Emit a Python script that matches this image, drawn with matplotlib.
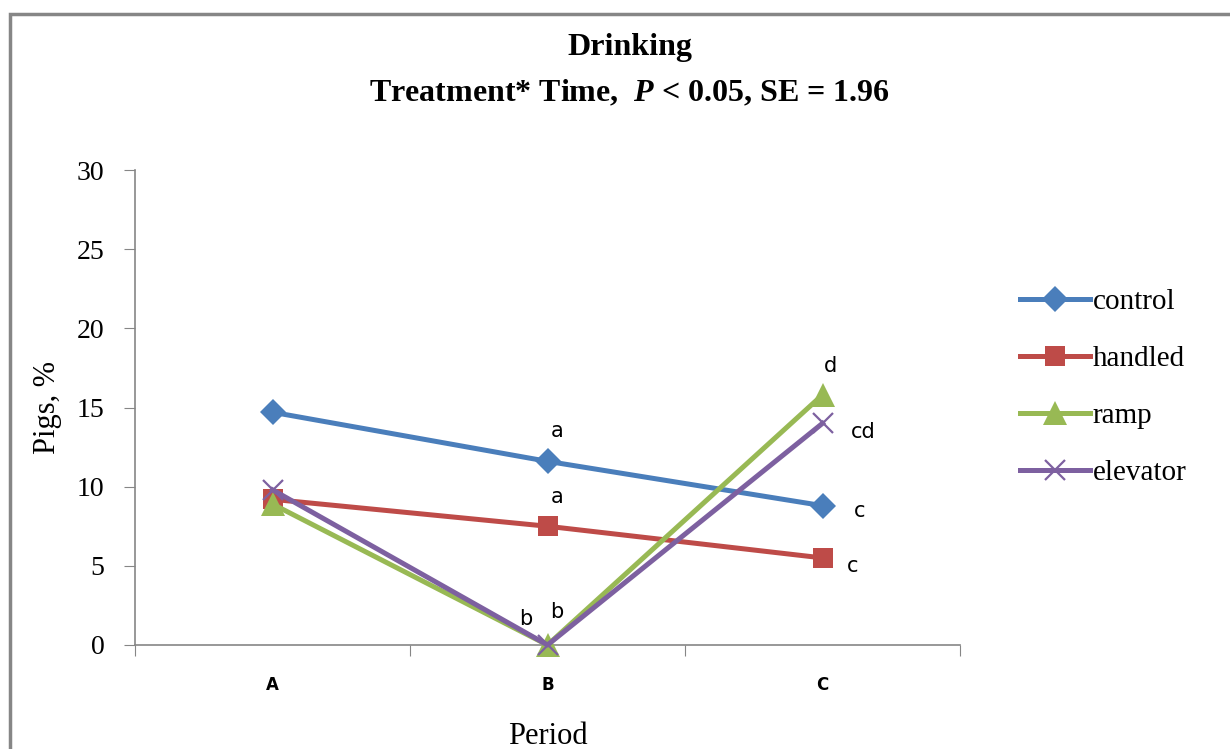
import matplotlib.pyplot as plt
from matplotlib.patches import Rectangle

periods = ['A', 'B', 'C']
control = [14.7, 11.6, 8.8]
handled = [9.2, 7.5, 5.5]
ramp = [8.9, 0.0, 15.8]
elevator = [9.8, 0.0, 14.0]

# significance letters per point ('' = none)
control_sig = ['', 'a', 'c']
handled_sig = ['', 'a', 'c']
ramp_sig = ['', 'b', 'd']
elevator_sig = ['', 'b', 'cd']

serif = 'Liberation Serif'
plt.rcParams['mathtext.fontset'] = 'custom'
plt.rcParams['mathtext.it'] = 'Liberation Serif:italic:bold'
plt.rcParams['mathtext.rm'] = 'Liberation Serif:bold'

fig = plt.figure(figsize=(12.3, 7.49), dpi=100)
ax = fig.add_axes([135 / 1230, 1 - 645 / 749, 825 / 1230, 475 / 749])

x = [1, 2, 3]
series = [
    ('control', control, control_sig, '#4A7EBB', 'D', 13, [None, (7, 22), (27, -4)]),
    ('handled', handled, handled_sig, '#BE4B48', 's', 15, [None, (7, 21), (22, -6)]),
    ('ramp', ramp, ramp_sig, '#98B954', '^', 17, [None, (-16, 19), (6, 21)]),
    ('elevator', elevator, elevator_sig, '#7D60A0', 'x', 15, [None, (7, 24), (29, -6)]),
]
for name, vals, sig, col, mk, ms, offs in series:
    ax.plot(x, vals, color=col, lw=3.6, marker=mk, ms=ms, mew=1.6 if mk == 'x' else 0,
            mec=col, mfc=col, label=name, clip_on=False, zorder=3)
    for xi, v, s, o in zip(x, vals, sig, offs):
        if s:
            ax.annotate(s, (xi, v), xytext=o, textcoords='offset points', ha='center',
                        va='center', fontsize=15, family='Liberation Sans Narrow')

ax.set_xlim(0.5, 3.5)
ax.set_ylim(0, 30)
ax.set_yticks(range(0, 31, 5))
ax.set_xticks([0.5, 1.5, 2.5, 3.5])
ax.set_xticklabels([])
ax.set_xticks(x, minor=True)
ax.set_xticklabels(periods, minor=True, fontsize=12, fontweight='bold', family='DejaVu Sans')
ax.tick_params(axis='x', which='minor', length=0, pad=22)
ax.tick_params(axis='x', which='major', length=8, color='#868686', direction='out')
ax.tick_params(axis='y', length=8, color='#868686', direction='out', pad=14)
for lab in ax.get_yticklabels():
    lab.set_family(serif)
    lab.set_fontsize(20)
for side in ['top', 'right']:
    ax.spines[side].set_visible(False)
for side in ['left', 'bottom']:
    ax.spines[side].set_color('#868686')
    ax.spines[side].set_linewidth(1.2)

ax.set_ylabel('Pigs, %', family=serif, fontsize=22, va='center')
ax.yaxis.set_label_coords(-88 / 825, 0.5)
ax.set_xlabel('Period', family=serif, fontsize=22, va='center')
ax.xaxis.set_label_coords(0.5, -91 / 475)

fig.text(630 / 1230, 1 - 48 / 749, 'Drinking', family=serif, fontsize=23,
         fontweight='bold', ha='center', va='center')
fig.text(630 / 1230, 1 - 93 / 749, r'Treatment* Time,  $P$ < 0.05, SE = 1.96', family=serif,
         fontsize=23, fontweight='bold', ha='center', va='center')

leg = fig.legend(loc='upper left', bbox_to_anchor=(1008 / 1230, 1 - 277 / 749), frameon=False,
                 prop={'family': serif, 'size': 21}, handlelength=2.4, handletextpad=0.1,
                 labelspacing=1.05, borderaxespad=0)

fig.add_artist(Rectangle((10 / 1230, -0.2), 1.2, 0.2 + (749 - 14) / 749,
                         transform=fig.transFigure, fill=False, ec='#868686', lw=2.5))

fig.savefig('out.png', dpi=100)
